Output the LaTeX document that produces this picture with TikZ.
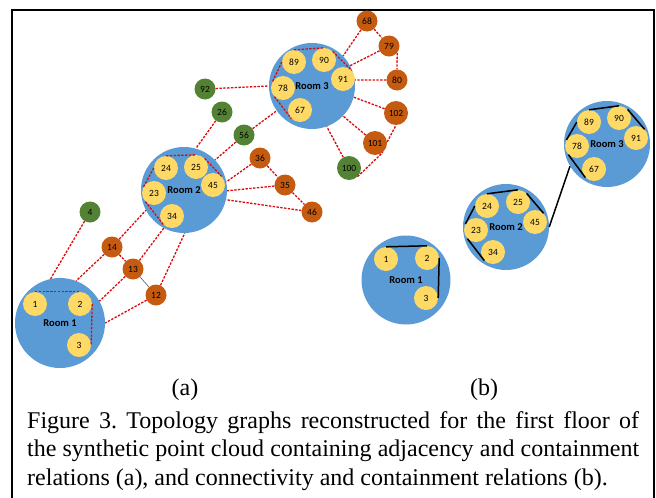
\documentclass[tikz,border=0pt]{standalone}
\usepackage{fontspec}
\setmainfont{Liberation Serif}
\newfontfamily\calibri{Carlito}
\usepackage{tikz}
\usetikzlibrary{positioning}
\definecolor{roomblue}{RGB}{91,155,213}
\definecolor{spaceyellow}{RGB}{255,217,102}
\definecolor{doorgreen}{RGB}{84,130,53}
\definecolor{winorange}{RGB}{197,90,17}
\definecolor{adjred}{RGB}{222,10,10}
\frenchspacing

\begin{document}
\begin{tikzpicture}[
  x=1pt, y=-1pt,
  font=\calibri\fontsize{9.5}{10}\selectfont,
  room/.style   ={circle, fill=roomblue, minimum size=86pt, inner sep=0pt,
                  font=\calibri\bfseries\fontsize{10.5}{12}\selectfont},
  space/.style  ={circle, fill=spaceyellow, minimum size=24pt, inner sep=0pt},
  door/.style   ={circle, fill=doorgreen,   minimum size=21pt, inner sep=0pt},
  win/.style    ={circle, fill=winorange,   minimum size=21pt, inner sep=0pt},
  wide/.style   ={minimum size=24pt},
  adj/.style    ={adjred, line width=1.3pt, dash pattern=on 2.4pt off 1.4pt},
  conn/.style   ={black, line width=1.5pt},
  capt/.style   ={inner sep=0pt, font=\rmfamily\fontsize{24}{28.7}\selectfont}
]
\path[use as bounding box, fill=white] (0,0) rectangle (656,498);

% --- frame ---
\draw[line width=2.2pt] (12,498) -- (12,10) -- (654,10) -- (654,498);

% --- (a) rooms and spaces ---
\node[room, minimum size=90pt] (r1a) at (60,323)  {Room 1};
\node[room]                    (r2a) at (184,190) {Room 2};
\node[room]                    (r3a) at (312,86)  {Room 3};

\node[space] (a1)  at (35,304)  {1};
\node[space] (a2)  at (80,304)  {2};
\node[space] (a3)  at (79,345)  {3};
\node[space] (a24) at (166,168) {24};
\node[space] (a25) at (196,167) {25};
\node[space] (a45) at (213,185) {45};
\node[space] (a23) at (154,193) {23};
\node[space] (a34) at (172,216) {34};
\node[space] (a89) at (294,62)  {89};
\node[space] (a90) at (324,60)  {90};
\node[space] (a91) at (343,79)  {91};
\node[space] (a78) at (283,88)  {78};
\node[space] (a67) at (300,110) {67};

% --- (a) doors and windows ---
\node[door]       (d4)   at (90,212)  {4};
\node[door]       (d26)  at (222,112) {26};
\node[door]       (d56)  at (244,135) {56};
\node[door]       (d92)  at (205,89)  {92};
\node[door, wide] (d100) at (349,168) {100};

\node[win]       (w14)  at (112,247) {14};
\node[win]       (w13)  at (133,269) {13};
\node[win]       (w12)  at (156,295) {12};
\node[win]       (w36)  at (260,158) {36};
\node[win]       (w35)  at (285,185) {35};
\node[win]       (w46)  at (312,212) {46};
\node[win]       (w68)  at (367,21)  {68};
\node[win]       (w79)  at (389,46)  {79};
\node[win]       (w80)  at (397,80)  {80};
\node[win, wide] (w102) at (396,113) {102};
\node[win, wide] (w101) at (375,143) {101};

% --- (a) adjacency inside rooms ---
\draw[adj] (a1.north)  -- (a2.north);
\draw[adj] (a2.east)   -- (a3.east);
\draw[adj] (a24.north) -- (a25.north);
\draw[adj] (a25.45)    -- (a45.45);
\draw[adj] (a24.180)   -- (a23.150);
\draw[adj] (a23.225)   -- (a34.225);
\draw[adj] (a89.north) -- (a90.north);
\draw[adj] (a90.45)    -- (a91.45);
\draw[adj] (a89.180)   -- (a78.150);
\draw[adj] (a78.225)   -- (a67.225);

% --- (a) adjacency between rooms, doors and windows ---
\draw[adj] (d4)  -- (r1a.102);
\draw[adj] (w14) -- (r1a.69);
\draw[adj] (w14) -- (r2a.208);
\draw[adj] (w14) -- (w13);
\draw[adj] (w13) -- (r1a.29);
\draw[adj] (w13) -- (r2a.242);
\draw[gray!70!black, line width=0.6pt] (w13) -- (w12);
\draw[adj] (w12) -- (r1a.0);
\draw[adj] (w12) -- (r2a.271);
\draw[adj] (d26) -- (r2a.74);
\draw[adj] (d56) -- (r2a.44);
\draw[adj] (d56) -- (r3a.215);
\draw[adj] (d92) -- (r3a.180);
\draw[adj] (w36) -- (r2a.11);
\draw[adj] (w36) -- (w35);
\draw[adj] (w35) -- (r2a.-1);
\draw[adj] (w35) -- (w46);
\draw[adj] (w46) -- (r2a.-13);
\draw[adj] (w68) -- (r3a.44);
\draw[adj] (w68) -- (w79);
\draw[adj] (w79) -- (r3a.28);
\draw[adj] (w79.-40) -- (w80.north);
\draw[adj] (w80) -- (r3a.8);
\draw[adj] (w102) -- (r3a.-15);
\draw[adj] (w101) -- (r3a.-44);
\draw[adj] (w101.5) -- (w102.south);
\draw[adj] (d100) -- (r3a.-70);
\draw[adj] (d100.-45) -- (w101.-50);

% --- (b) rooms and spaces ---
\node[room, minimum size=89pt] (r1b) at (406,280) {Room 1};
\node[room]                    (r2b) at (506,227) {Room 2};
\node[room]                    (r3b) at (607,144) {Room 3};

\node[space] (b1)  at (386,259) {1};
\node[space] (b2)  at (427,258) {2};
\node[space] (b3)  at (426,298) {3};
\node[space] (b24) at (487,206) {24};
\node[space] (b25) at (518,202) {25};
\node[space] (b45) at (535,222) {45};
\node[space] (b23) at (476,230) {23};
\node[space] (b34) at (493,252) {34};
\node[space] (b89) at (589,122) {89};
\node[space] (b90) at (619,118) {90};
\node[space] (b91) at (636,138) {91};
\node[space] (b78) at (577,146) {78};
\node[space] (b67) at (594,169) {67};

% --- (b) connectivity ---
\draw[conn] (b1.north)  -- (b2.north);
\draw[conn] (b2.east)   -- (b3.east);
\draw[conn] (b24.north) -- (b25.north);
\draw[conn] (b25.45)    -- (b45.45);
\draw[conn] (b24.180)   -- (b23.150);
\draw[conn] (b23.225)   -- (b34.225);
\draw[conn] (b89.north) -- (b90.north);
\draw[conn] (b90.45)    -- (b91.45);
\draw[conn] (b89.180)   -- (b78.150);
\draw[conn] (b78.225)   -- (b67.225);
\draw[conn] (r2b.0)     -- (r3b.211);

% --- sub-labels and caption ---
\node[capt] (laba) at (185,390) {(a)};
\node[capt] (labb) at (484,390) {(b)};
\node[capt, anchor=north west, align=left] (caption) at (27,411)
  {\makebox[612pt][s]{Figure 3. Topology graphs reconstructed for the first floor of}\\
   \makebox[612pt][s]{the synthetic point cloud containing adjacency and containment}\\
   relations (a), and connectivity and containment relations (b).};

\end{tikzpicture}
\end{document}
